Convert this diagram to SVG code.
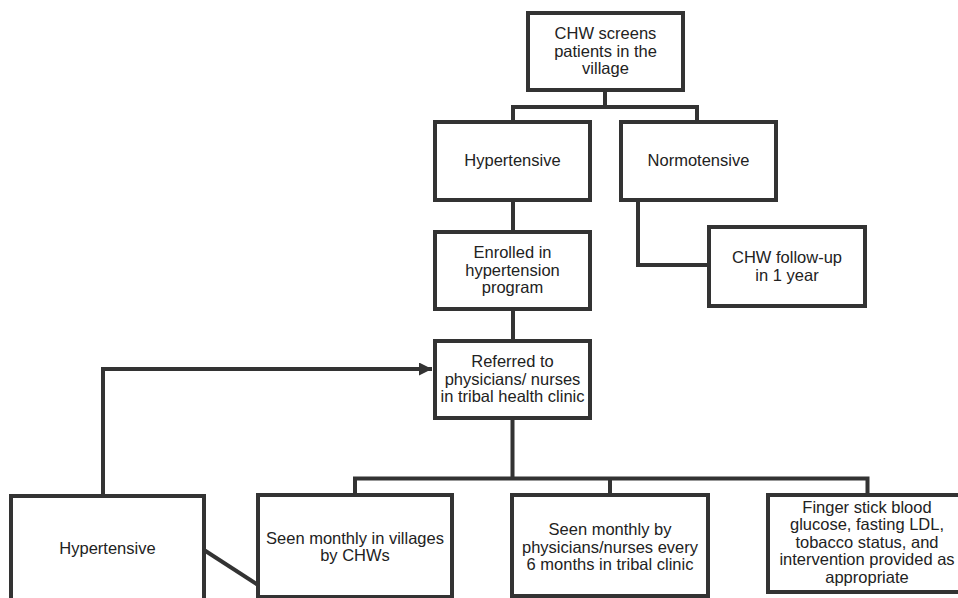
<svg xmlns="http://www.w3.org/2000/svg" width="958" height="598" viewBox="0 0 958 598">
<style>
.box{fill:#fff;stroke:#333;stroke-width:4}
.ln{fill:none;stroke:#333;stroke-width:4;stroke-linejoin:miter}
text{font-family:"Liberation Sans",Arial,sans-serif;font-size:16.5px;fill:#222;text-anchor:middle}
</style>
<defs>
<marker id="ah" markerUnits="userSpaceOnUse" markerWidth="14" markerHeight="14" refX="13" refY="6.5" orient="auto">
<path d="M0,0 L13,6.5 L0,13 Z" fill="#333"/>
</marker>
</defs>
<rect width="958" height="598" fill="#fff"/>
<g id="connectors">
<path class="ln" d="M605,90 V107 M513,122 V107 H697 V122"/>
<path class="ln" d="M513,200 V232"/>
<path class="ln" d="M513,309 V341"/>
<path class="ln" d="M638,200 V265 H709"/>
<path class="ln" d="M512.5,418 V478.5 M355,495 V478.5 H867.5 V495 M610,478.5 V495"/>
<path class="ln" d="M103,496 V369 H432" marker-end="url(#ah)"/>
<path class="ln" d="M204,550 L258,585"/>
</g>
<g id="n1"><rect class="box" x="528" y="13" width="155" height="77"/>
<text x="605.5" y="39">CHW screens</text><text x="605.5" y="56.5">patients in the</text><text x="605.5" y="74">village</text></g>
<g id="n2"><rect class="box" x="435" y="122" width="155" height="78"/>
<text x="512.5" y="166">Hypertensive</text></g>
<g id="n3"><rect class="box" x="621" y="122" width="155" height="78"/>
<text x="698.5" y="166">Normotensive</text></g>
<g id="n4"><rect class="box" x="709" y="227" width="156" height="79"/>
<text x="787" y="263">CHW follow-up</text><text x="787" y="280.5">in 1 year</text></g>
<g id="n5"><rect class="box" x="435" y="232" width="155" height="77"/>
<text x="512.5" y="258">Enrolled in</text><text x="512.5" y="275.5">hypertension</text><text x="512.5" y="293">program</text></g>
<g id="n6"><rect class="box" x="435" y="341" width="155" height="77"/>
<text x="512.5" y="367">Referred to</text><text x="512.5" y="384.5">physicians/ nurses</text><text x="512.5" y="402">in tribal health clinic</text></g>
<g id="n7"><rect class="box" x="11" y="496" width="193" height="110"/>
<text x="107.5" y="553.5">Hypertensive</text></g>
<g id="n8"><rect class="box" x="258" y="495" width="194" height="102"/>
<text x="355" y="543.5">Seen monthly in villages</text><text x="355" y="561">by CHWs</text></g>
<g id="n9"><rect class="box" x="512" y="495" width="196" height="101"/>
<text x="610" y="535">Seen monthly by</text><text x="610" y="552.5">physicians/nurses every</text><text x="610" y="570">6 months in tribal clinic</text></g>
<g id="n10"><rect class="box" x="768" y="495" width="199" height="97"/>
<text x="867" y="512.5">Finger stick blood</text><text x="867" y="530">glucose, fasting LDL,</text><text x="867" y="547.5">tobacco status, and</text><text x="867" y="565">intervention provided as</text><text x="867" y="582.5">appropriate</text></g>
</svg>
